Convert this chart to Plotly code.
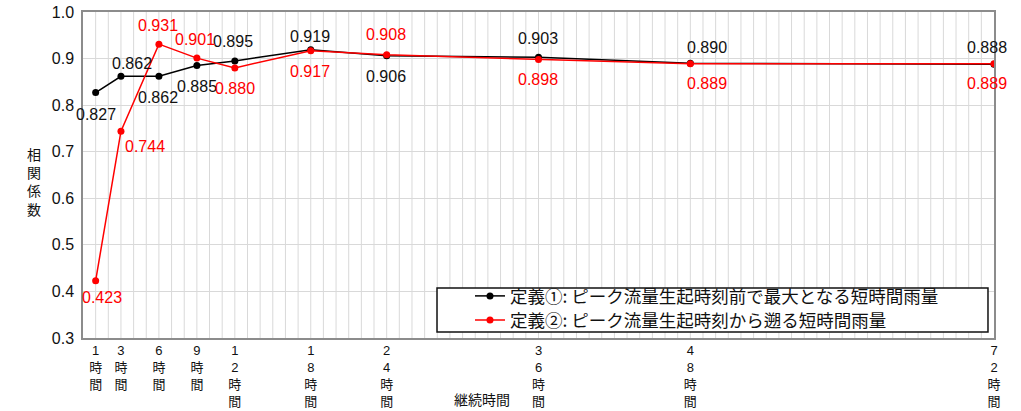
import plotly.graph_objects as go

# ---- data ----
hours = [1, 3, 6, 9, 12, 18, 24, 36, 48, 72]
def1 = [0.827, 0.862, 0.862, 0.885, 0.895, 0.919, 0.906, 0.903, 0.890, 0.888]
def2 = [0.423, 0.744, 0.931, 0.901, 0.880, 0.917, 0.908, 0.898, 0.889, 0.889]
tick_labels = ["1<br>時<br>間", "3<br>時<br>間", "6<br>時<br>間", "9<br>時<br>間",
               "1<br>2<br>時<br>間", "1<br>8<br>時<br>間", "2<br>4<br>時<br>間",
               "3<br>6<br>時<br>間", "4<br>8<br>時<br>間", "7<br>2<br>時<br>間"]
name1 = "定義①: ピーク流量生起時刻前で最大となる短時間雨量"
name2 = "定義②: ピーク流量生起時刻から遡る短時間雨量"
y_title = "相<br>関<br>係<br>数"
x_title = "継続時間"

# ---- label placement (styles, pixel shifts) ----
shift1 = [(0, -22), (11, 13), (-1, -21), (0, -21), (-2, 19),
          (-1, 13), (-1, -21), (-1, 19), (17, 16), (-7, 17)]
shift2 = [(6, -17), (24, -15), (-1, 19), (-2, 19), (0, -21),
          (-1, -21), (-1, 20), (-1, -20), (17, -20), (-7, -20)]

FONT = "Arial, Liberation Sans, Noto Sans CJK JP"
JP = "Noto Sans CJK JP"

fig = go.Figure()
fig.add_trace(go.Scatter(
    x=hours, y=def1, mode="lines+markers", name=name1, legend="legend",
    line=dict(color="black", width=1.5), marker=dict(color="black", size=7)))
fig.add_trace(go.Scatter(
    x=hours, y=def2, mode="lines+markers", name=name2, legend="legend2",
    line=dict(color="red", width=1.5), marker=dict(color="red", size=7)))

for xs, ys, sh, col in [(hours, def1, shift1, "#111111"), (hours, def2, shift2, "red")]:
    for xv, yv, (dx, dy) in zip(xs, ys, sh):
        fig.add_annotation(x=xv, y=yv, xref="x", yref="y", text=f"{yv:.3f}",
                           showarrow=False, xshift=dx, yshift=dy,
                           font=dict(size=16, color=col, family=FONT))

leg_common = dict(xanchor="left", yanchor="top", borderwidth=0,
                  bgcolor="rgba(0,0,0,0)",
                  font=dict(size=17.5, family=JP, color="#111111"))

fig.update_layout(
    width=1021, height=411,
    margin=dict(l=83, r=27, t=12, b=73, autoexpand=False),
    paper_bgcolor="white", plot_bgcolor="white",
    font=dict(family=FONT, size=15, color="#111111"),
    showlegend=True,
    legend=dict(x=0.4248, y=0.184, **leg_common),
    legend2=dict(x=0.4248, y=0.110, **leg_common),
    xaxis=dict(range=[0, 72], tickmode="array", tickvals=hours, ticktext=tick_labels,
               showgrid=False, showline=True, linecolor="#8c8c8c", linewidth=1.5,
               mirror=True, ticks="", zeroline=False, automargin=False,
               tickfont=dict(size=13, family="Arial, Noto Sans CJK JP", color="#111111")),
    yaxis=dict(range=[0.3, 1.0], dtick=0.1, tickformat=".1f",
               showgrid=True, gridcolor="#d9d9d9", gridwidth=1,
               showline=True, linecolor="#8c8c8c", linewidth=1.5, mirror=True,
               ticks="", zeroline=False, ticklabelstandoff=4, automargin=False,
               tickfont=dict(size=16, color="#111111")),
)

# hourly vertical gridlines
for h in range(1, 72):
    fig.add_shape(type="line", x0=h, x1=h, y0=0, y1=1, xref="x", yref="paper",
                  line=dict(color="#d9d9d9", width=1), layer="below")

# legend frame
fig.add_shape(type="rect", xref="paper", yref="paper",
              x0=0.3886, x1=0.9934, y0=0.0184, y1=0.1534,
              line=dict(color="#111111", width=1.5), fillcolor="white", layer="above")

fig.add_annotation(text=y_title, xref="paper", yref="paper",
                   x=-0.0637, y=0.48, showarrow=False,
                   font=dict(size=14, family=JP, color="#111111"))
fig.add_annotation(text=x_title, xref="paper", yref="paper",
                   x=0.438, y=-0.187, yanchor="middle", showarrow=False,
                   font=dict(size=14, family=JP, color="#111111"))

fig.write_html("out.html", config={"displayModeBar": False},
               post_script="document.body.style.margin='0';")
